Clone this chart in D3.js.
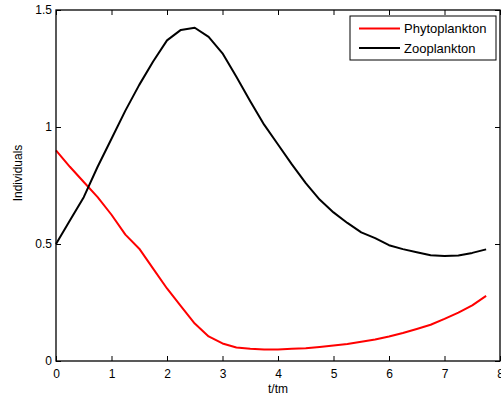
<!DOCTYPE html>
<html>
<head>
<meta charset="utf-8">
<script src="https://cdn.jsdelivr.net/npm/d3@7"></script>
<style>
  body { margin: 0; background: #fff; }
  text { font-family: "Liberation Sans", Arial, Helvetica, sans-serif; }
</style>
</head>
<body>
<svg id="chart" width="501" height="402"></svg>
<script>
const times = [0,0.25,0.5,0.75,1,1.25,1.5,1.75,2,2.25,2.5,2.75,3,3.25,3.5,3.75,4,4.25,4.5,4.75,5,5.25,5.5,5.75,6,6.25,6.5,6.75,7,7.25,7.5,7.75];
const phytoplankton = [0.90,0.83,0.765,0.70,0.625,0.54,0.48,0.395,0.31,0.235,0.16,0.105,0.075,0.058,0.052,0.049,0.049,0.052,0.055,0.060,0.066,0.073,0.082,0.092,0.105,0.12,0.137,0.155,0.18,0.207,0.238,0.278];
const zooplankton = [0.50,0.60,0.70,0.83,0.95,1.07,1.18,1.28,1.37,1.415,1.424,1.385,1.315,1.215,1.11,1.01,0.925,0.84,0.76,0.69,0.635,0.59,0.55,0.525,0.495,0.478,0.465,0.452,0.449,0.451,0.462,0.477];
const xTicks = [0,1,2,3,4,5,6,7,8];
const yTicks = [0,0.5,1,1.5];
const seriesNames = ["Phytoplankton","Zooplankton"];
const seriesColors = ["#ff0000","#000000"];

const svg = d3.select("#chart");
const L = 56, R = 500, T = 10, B = 361;
const x = d3.scaleLinear().domain([0,8]).range([L,R]);
const y = d3.scaleLinear().domain([0,1.5]).range([B,T]);

// lines
const series = [phytoplankton, zooplankton];
const line = d3.line().x((d,i)=>x(times[i])).y(d=>y(d));
series.forEach((s,k)=>{
  svg.append("path").datum(s).attr("d", line)
    .attr("fill","none").attr("stroke",seriesColors[k]).attr("stroke-width",2)
    .attr("stroke-linejoin","round");
});

const tickLen = 5;
// axes
const gx = svg.append("g").attr("transform",`translate(0,${B})`)
  .call(d3.axisBottom(x).tickValues(xTicks).tickSize(-tickLen).tickPadding(8).tickFormat(d3.format("d")));
const gxTop = svg.append("g").attr("transform",`translate(0,${T})`)
  .call(d3.axisTop(x).tickValues(xTicks).tickSize(-tickLen).tickFormat(""));
const gy = svg.append("g").attr("transform",`translate(${L},0)`)
  .call(d3.axisLeft(y).tickValues(yTicks).tickSize(-tickLen).tickPadding(4).tickFormat(d=>d===0?"0":String(d)));
const gyR = svg.append("g").attr("transform",`translate(${R},0)`)
  .call(d3.axisRight(y).tickValues(yTicks).tickSize(-tickLen).tickFormat(""));
[gx,gxTop,gy,gyR].forEach(g=>{
  g.select(".domain").remove();
  g.selectAll("line").attr("stroke","#000");
  g.selectAll("text").attr("fill","#000").style("font-size","12px");
});
gx.selectAll("text").attr("dy","0.71em");

svg.append("rect").attr("x",L).attr("y",T).attr("width",R-L).attr("height",B-T)
  .attr("fill","none").attr("stroke","#000").attr("stroke-width",1.3);

// labels
svg.append("text").attr("x",278).attr("y",393).attr("text-anchor","middle")
  .style("font-size","12px").text("t/tm");
svg.append("text").attr("transform","translate(22,173) rotate(-90)").attr("text-anchor","middle")
  .style("font-size","12px").text("Individuals");

// legend
const lg = svg.append("g");
lg.append("rect").attr("x",350).attr("y",16).attr("width",146).attr("height",44)
  .attr("fill","#fff").attr("stroke","#000").attr("stroke-width",1);
seriesNames.forEach((n,k)=>{
  const yy = 28.5 + k*19.5;
  lg.append("line").attr("x1",359).attr("x2",400).attr("y1",yy).attr("y2",yy)
    .attr("stroke",seriesColors[k]).attr("stroke-width",2);
  lg.append("text").attr("x",404).attr("y",yy).attr("dy","0.35em")
    .style("font-size","13px").text(n);
});
</script>
</body>
</html>
